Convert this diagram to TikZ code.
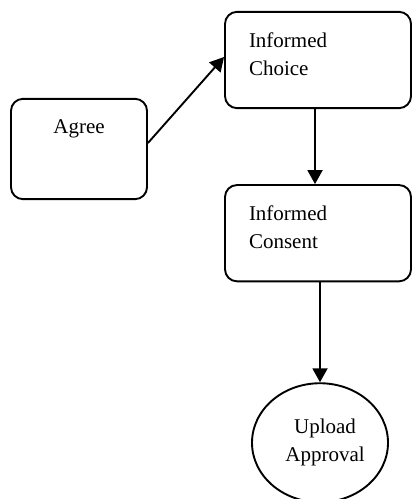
\documentclass[tikz,border=0pt]{standalone}
\usepackage{fontspec}
\setmainfont{Liberation Serif}
\usepackage{tikz}
\usetikzlibrary{positioning,arrows.meta,shapes.geometric}

\begin{document}
\begin{tikzpicture}[x=1bp, y=-1bp, line width=1.9bp, font=\fontsize{21bp}{28bp}\selectfont,
    box/.style = {draw, rounded corners=12bp, inner xsep=24bp, inner ysep=20.5bp, text depth=40.5bp},
    oval/.style = {draw, ellipse, inner sep=0pt, minimum width=136bp, minimum height=119bp, align=center},
    arr/.style = {-{Triangle[length=14bp,width=15bp]}}]
    \useasboundingbox (0,0) rectangle (412,499);
    \node[box, text width=138bp, align=left] (choice) at (318,60) {Informed\\Choice};
    \node[box, text width=138bp, align=left, below=75bp of choice] (consent) {Informed\\Consent};
    \node[box, text width=88bp, align=center, text depth=45.5bp] (agree) at (79,149) {Agree};
    \node[oval, below=100bp of consent, xshift=2bp] (approval) {\hspace*{10bp}Upload\\\hspace*{10bp}Approval};
    \draw[arr] ([yshift=6bp]agree.east) -- ([yshift=3bp]choice.west);
    \draw[arr] ([xshift=-3bp]choice.south) -- ([xshift=-3bp]consent.north);
    \draw[arr] (consent.south -| approval.north) -- (approval.north);
\end{tikzpicture}
\end{document}
